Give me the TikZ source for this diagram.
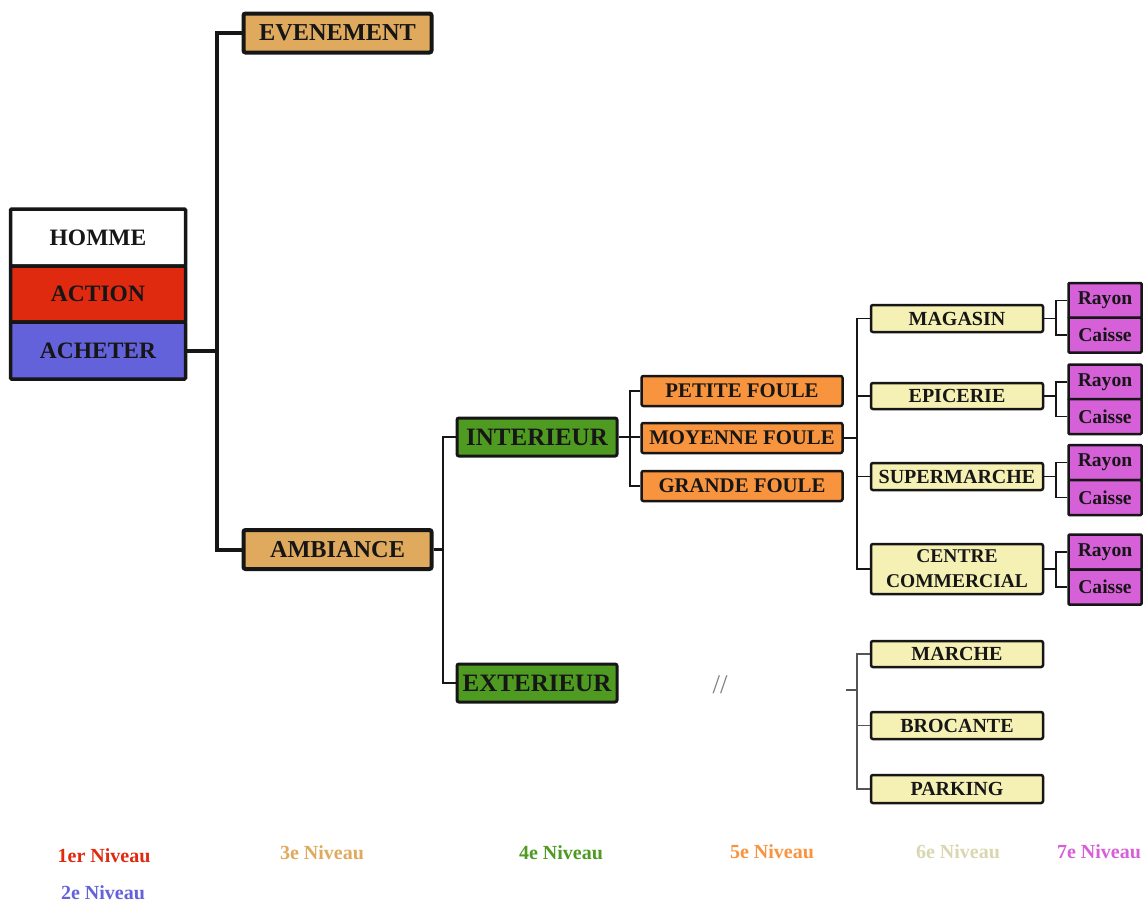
\documentclass[tikz,border=0pt]{standalone}
\usepackage{fontspec}
\setmainfont{Liberation Serif}
\definecolor{inkc}{HTML}{161616}
\definecolor{redc}{HTML}{E02A10}
\definecolor{bluec}{HTML}{6462DA}
\definecolor{tanc}{HTML}{DFAA5E}
\definecolor{greenc}{HTML}{4F9B22}
\definecolor{orangec}{HTML}{F9943E}
\definecolor{yellowc}{HTML}{F5F0B4}
\definecolor{magc}{HTML}{D660D8}
\definecolor{paletxt}{HTML}{DAD7B0}
\definecolor{grayline}{HTML}{555555}
\newcommand{\fs}[1]{\fontsize{#1}{#1}\selectfont}
\begin{document}
\begin{tikzpicture}[x=1pt,y=-1pt,
  box/.style={draw=inkc,rounded corners=2pt,inner sep=0pt,align=center,text=inkc,font=\bfseries},
  rootbox/.style={box,line width=3.5pt,minimum width=175pt,minimum height=57pt,rounded corners=1pt,font=\bfseries\fs{23.5}},
  lvlthree/.style={box,fill=tanc,line width=4pt,minimum width=188pt,minimum height=39pt,font=\bfseries\fs{24.3}},
  lvlfour/.style={box,fill=greenc,line width=3pt,minimum width=160pt,minimum height=38pt,font=\bfseries\fs{25}},
  lvlfive/.style={box,fill=orangec,line width=2.5pt,minimum width=201pt,minimum height=30pt,font=\bfseries\fs{20.8}},
  lvlsix/.style={box,fill=yellowc,line width=2.5pt,minimum width=172pt,minimum height=27pt,font=\bfseries\fs{20}},
  lvlseven/.style={box,fill=magc,line width=2.5pt,minimum width=73pt,minimum height=35pt,rounded corners=1pt,font=\bfseries\fs{19.6}},
  legend/.style={font=\bfseries\fs{20}},
  link/.style={draw=inkc,line width=#1},
  link/.default=2pt]

\useasboundingbox[fill=white] (0,0) rectangle (1146,902);

% bus positions of the tree branches
\coordinate (b1) at (217,0);
\coordinate (b2) at (443,0);
\coordinate (b3) at (630,0);
\coordinate (b4) at (857,0);
\coordinate (b5) at (1056,0);

% level 1 and 2: root stack
\node[rootbox,fill=white] (homme) at (98,237.5) {HOMME};
\node[rootbox,fill=redc,minimum height=56pt] (action) at (98,294) {ACTION};
\node[rootbox,fill=bluec] (acheter) at (98,350.5) {ACHETER};

% level 3
\node[lvlthree] (even) at (337.5,33) {EVENEMENT};
\node[lvlthree] (amb) at (337.5,549.5) {AMBIANCE};

% level 4
\node[lvlfour] (inter) at (537,437) {INTERIEUR};
\node[lvlfour] (exter) at (537,683) {EXTERIEUR};

% level 5
\node[lvlfive] (petite) at (742,391) {PETITE FOULE};
\node[lvlfive] (moy) at (742,438) {MOYENNE FOULE};
\node[lvlfive] (grande) at (742,486) {GRANDE FOULE};

% level 6
\node[lvlsix] (magasin) at (957,318.5) {MAGASIN};
\node[lvlsix,minimum height=26pt] (epicerie) at (957,396) {EPICERIE};
\node[lvlsix] (super) at (957,476.5) {SUPERMARCHE};
\node[lvlsix,minimum height=50pt,font=\bfseries\fontsize{19.5}{25}\selectfont] (centre) at (957,569) {CENTRE\\COMMERCIAL};
\node[lvlsix,minimum height=26pt] (marche) at (957,654) {MARCHE};
\node[lvlsix] (brocante) at (957,725.5) {BROCANTE};
\node[lvlsix,minimum height=28pt] (parking) at (957,789) {PARKING};

% level 7
\node[lvlseven] (r1) at (1105,300.5) {Rayon};
\node[lvlseven] (c1) at (1105,335) {Caisse};
\node[lvlseven] (r2) at (1105,382) {Rayon};
\node[lvlseven] (c2) at (1105,416.5) {Caisse};
\node[lvlseven] (r3) at (1105,462.5) {Rayon};
\node[lvlseven] (c3) at (1105,497.5) {Caisse};
\node[lvlseven] (r4) at (1105,552) {Rayon};
\node[lvlseven] (c4) at (1105,587) {Caisse};

% connectors
\draw[link=4pt] (acheter.east) -- (acheter.east -| b1);
\draw[link=4pt] (even.west) -- (even.west -| b1) -- (amb.west -| b1) -- (amb.west);

\draw[link=2.2pt] (amb.east) -- (amb.east -| b2);
\draw[link=2.2pt] (inter.west) -- (inter.west -| b2) -- (exter.west -| b2) -- (exter.west);

\draw[link=2pt] (inter.east) -- (inter.east -| moy.west);
\draw[link=2pt] (petite.west) -- (petite.west -| b3) -- (grande.west -| b3) -- (grande.west);

\draw[link=1.8pt] (moy.east) -- (moy.east -| b4);
\draw[link=1.8pt] (magasin.west) -- (magasin.west -| b4) -- (centre.west -| b4) -- (centre.west);
\draw[link=1.8pt] (epicerie.west) -- (epicerie.west -| b4);
\draw[link=1.8pt] (super.west) -- (super.west -| b4);

\foreach \p/\r/\c in {magasin/r1/c1, epicerie/r2/c2, super/r3/c3, centre/r4/c4}{
  \draw[link=1.6pt] (\p.east) -- (\p.east -| b5);
  \draw[link=1.6pt] (\r.west) -- (\r.west -| b5) -- (\c.west -| b5) -- (\c.west);
}

% outdoor branch
\coordinate (stub) at (846,690);
\draw[draw=grayline,line width=1.5pt] (stub) -- (stub -| b4);
\draw[draw=grayline,line width=1.5pt] (marche.west) -- (marche.west -| b4) -- (parking.west -| b4) -- (parking.west);
\draw[draw=grayline,line width=1.5pt] (brocante.west) -- (brocante.west -| b4);
\node[text=grayline!75,font=\fs{27}] (skip) at (720,685) {//};

% legend
\node[legend,text=redc] (l1) at (104,856) {1er Niveau};
\node[legend,text=bluec] (l2) at (103,893) {2e Niveau};
\node[legend,text=tanc] (l3) at (322,853) {3e Niveau};
\node[legend,text=greenc] (l4) at (561,853) {4e Niveau};
\node[legend,text=orangec] (l5) at (772,852) {5e Niveau};
\node[legend,text=paletxt] (l6) at (958,852) {6e Niveau};
\node[legend,text=magc] (l7) at (1099,852) {7e Niveau};
\end{tikzpicture}
\end{document}
